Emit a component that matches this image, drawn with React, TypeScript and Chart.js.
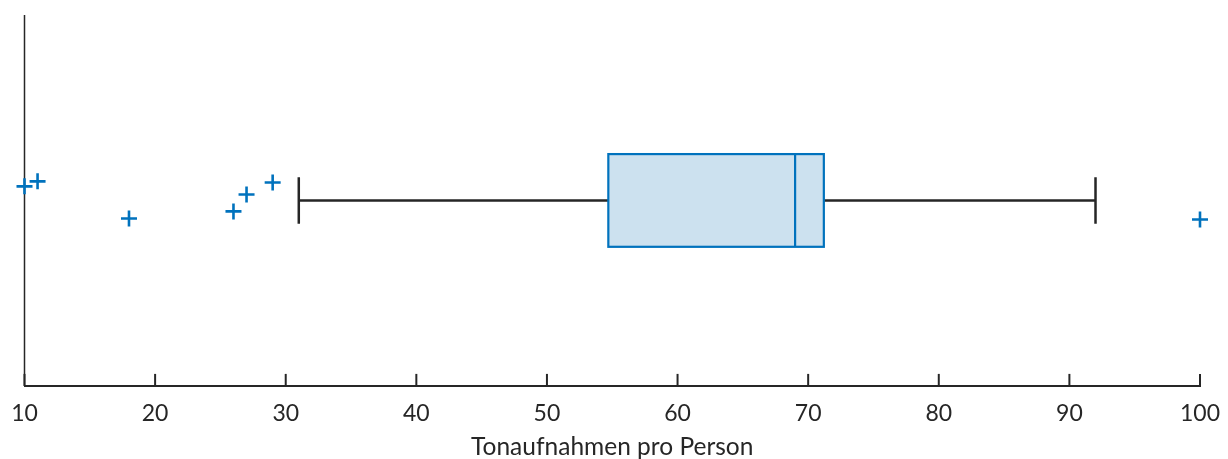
import React, { useEffect, useRef } from "react";
import { Chart, registerables } from "chart.js";

Chart.register(...registerables);

const xTicks = [10, 20, 30, 40, 50, 60, 70, 80, 90, 100];
const outlierValues = [10, 11, 18, 26, 27, 29, 100];
const outlierPositions = [1.076, 1.103, 0.903, 0.941, 1.032, 1.097, 0.897];
const whiskerLow = 31;
const quartile1 = 54.7;
const medianValue = 69;
const quartile3 = 71.2;
const whiskerHigh = 92;
const boxCenter = 1;
const boxHalf = 0.25;
const capHalf = 0.125;
const axisTitle = "Tonaufnahmen pro Person";

const BLUE = "#0072BD";
const FILL = "#CCE1EF";
const DARK = "#262626";

const boxPlugin = {
  id: "boxPlugin",
  beforeDatasetsDraw(chart: any) {
    const ctx = chart.ctx;
    const xs = chart.scales.x;
    const ys = chart.scales.y;
    const area = chart.chartArea;
    ctx.save();
    ctx.strokeStyle = DARK;
    ctx.lineWidth = 1.5;
    ctx.beginPath();
    ctx.moveTo(area.left, area.top);
    ctx.lineTo(area.left, area.bottom);
    ctx.stroke();
    ctx.lineWidth = 2;
    xTicks.forEach((t) => {
      const px = xs.getPixelForValue(t);
      ctx.beginPath();
      ctx.moveTo(px, area.bottom);
      ctx.lineTo(px, area.bottom - 12);
      ctx.stroke();
    });
    const yc = ys.getPixelForValue(boxCenter);
    const capT = ys.getPixelForValue(boxCenter + capHalf);
    const capB = ys.getPixelForValue(boxCenter - capHalf);
    const xl = xs.getPixelForValue(whiskerLow);
    const xh = xs.getPixelForValue(whiskerHigh);
    const x1 = xs.getPixelForValue(quartile1);
    const x3 = xs.getPixelForValue(quartile3);
    const xm = xs.getPixelForValue(medianValue);
    const bt = ys.getPixelForValue(boxCenter + boxHalf);
    const bb = ys.getPixelForValue(boxCenter - boxHalf);
    ctx.strokeStyle = DARK;
    ctx.lineWidth = 2.5;
    ctx.beginPath();
    ctx.moveTo(xl, yc);
    ctx.lineTo(x1, yc);
    ctx.moveTo(x3, yc);
    ctx.lineTo(xh, yc);
    ctx.moveTo(xl, capT);
    ctx.lineTo(xl, capB);
    ctx.moveTo(xh, capT);
    ctx.lineTo(xh, capB);
    ctx.stroke();
    ctx.fillStyle = FILL;
    ctx.fillRect(x1, bt, x3 - x1, bb - bt);
    ctx.strokeStyle = BLUE;
    ctx.lineWidth = 2.2;
    ctx.strokeRect(x1, bt, x3 - x1, bb - bt);
    ctx.beginPath();
    ctx.moveTo(xm, bt);
    ctx.lineTo(xm, bb);
    ctx.stroke();
    ctx.restore();
  },
};

export default function App() {
  const ref = useRef<HTMLCanvasElement | null>(null);
  useEffect(() => {
    if (!ref.current) return;
    const chart = new Chart(ref.current, {
      type: "scatter",
      data: {
        datasets: [
          {
            data: outlierValues.map((v, i) => ({ x: v, y: outlierPositions[i] })),
            pointStyle: "cross",
            pointRadius: 8,
            pointBorderWidth: 2.6,
            borderColor: BLUE,
            backgroundColor: BLUE,
            clip: false,
          },
        ],
      },
      options: {
        responsive: false,
        animation: false,
        layout: { padding: { left: 24.5, right: 28, top: 15, bottom: 0 } },
        plugins: { legend: { display: false }, tooltip: { enabled: false } },
        scales: {
          x: {
            type: "linear",
            min: 10,
            max: 100,
            afterBuildTicks: (s: any) => {
              s.ticks = xTicks.map((v) => ({ value: v }));
            },
            afterFit: (s: any) => {
              s.paddingLeft = 0;
              s.paddingRight = 0;
            },
            grid: { display: false, drawTicks: false, tickLength: 0 },
            border: { display: true, color: DARK, width: 2 },
            ticks: {
              color: DARK,
              font: { family: "Lato", size: 23 },
              padding: 14,
              maxRotation: 0,
              autoSkip: false,
            },
            title: {
              display: true,
              text: axisTitle,
              color: DARK,
              font: { family: "Lato", size: 24.5, lineHeight: 1 },
              padding: { top: -7, bottom: 0 },
            },
          },
          y: { type: "linear", min: 0, max: 2, display: false },
        },
      },
      plugins: [boxPlugin],
    } as any);
    return () => chart.destroy();
  }, []);
  return (
    <div style={{ position: "absolute", left: 0, top: 0, width: 1228, height: 459 }}>
      <canvas ref={ref} width={1228} height={459} style={{ display: "block" }} />
    </div>
  );
}
